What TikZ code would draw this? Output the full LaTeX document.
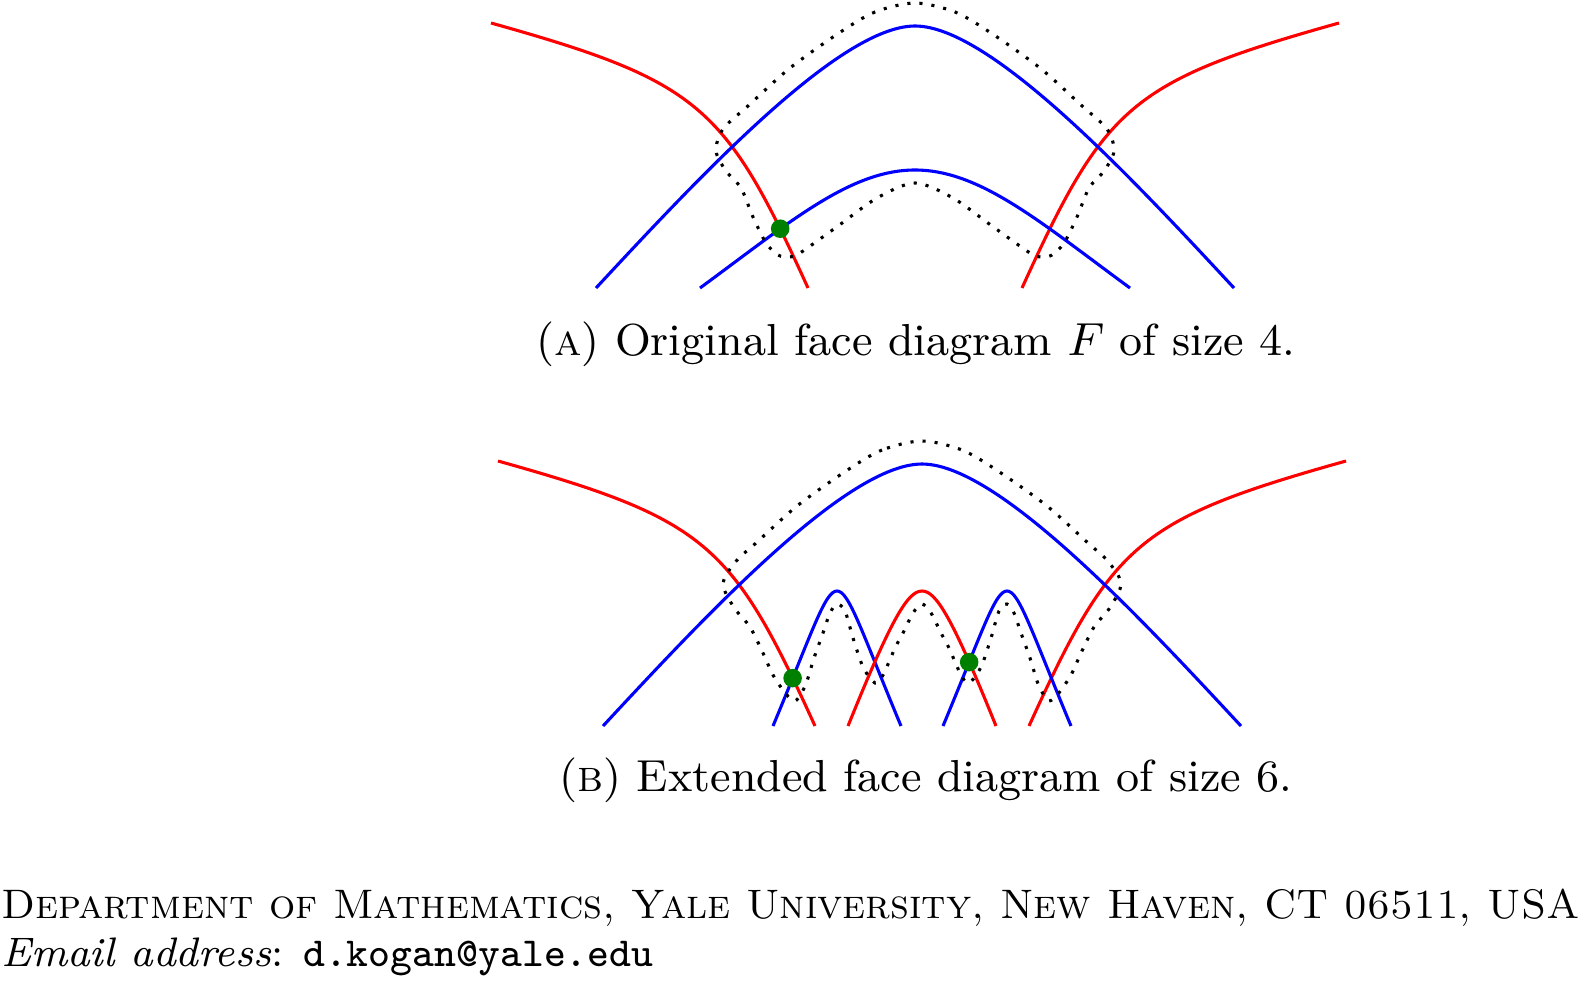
\documentclass[tikz,border=0pt]{standalone}
\usetikzlibrary{intersections}
\begin{document}
\begin{tikzpicture}[x=0.194pt,y=0.194pt,
    redcurve/.style={red,line width=0.6pt},
    bluecurve/.style={blue,line width=0.6pt},
    faceline/.style={line width=0.6pt,dash pattern=on 0.6pt off 1.75pt},
    meetdot/.style={circle,fill=green!50!black,inner sep=0pt,minimum size=3.6pt},
    captext/.style={anchor=base,font=\fontsize{8.7pt}{10.5pt}\selectfont}]
  \useasboundingbox (0,0) rectangle (1585,-980);
  % outer curves, the same in both diagrams
  \foreach \dx/\dy/\p in {0/0/a,7/-438/b}{
    \begin{scope}[shift={(\dx,\dy)}]
      \draw[redcurve,name path global=redleft\p] (491,-23) .. controls (700,-81.5) and (725,-105.6) .. (808,-288);
      \draw[redcurve] (1339,-23) .. controls (1130,-81.5) and (1105,-105.6) .. (1022,-288);
      \draw[bluecurve] (596,-288) .. controls (700,-176) and (840,-26) .. (915,-26)
        .. controls (990,-26) and (1130,-176) .. (1234,-288);
    \end{scope}
  }
  % (a)
  \draw[bluecurve,name path=innera] (700,-288) .. controls (790,-222) and (850,-170) .. (915,-170)
    .. controls (980,-170) and (1040,-222) .. (1130,-288);
  \draw[faceline] plot[smooth cycle] coordinates {(915,-3) (875,-12) (839,-33) (790,-68) (749,-105) (723,-129) (716,-151) (726,-171) (741,-188) (753,-217) (766,-243) (778,-255) (789,-257) (800,-253) (838,-226) (877,-198) (915,-183) (953,-198) (992,-226) (1030,-253) (1041,-257) (1052,-255) (1064,-243) (1077,-217) (1089,-188) (1104,-171) (1114,-151) (1107,-129) (1081,-105) (1040,-68) (991,-33) (955,-12)};
  \path[name intersections={of=redlefta and innera,by=ga}];
  \node[meetdot] (da) at (ga) {};
  \node[captext] (capa) at (916,-355) {(\textsc{a}) Original face diagram $F$ of size 4.};
  % (b)
  \draw[bluecurve,name path=bluearcb] (773,-726) .. controls (813,-630) and (825,-591) .. (837,-591)
    .. controls (849,-591) and (861,-630) .. (901,-726);
  \draw[redcurve,name path=redarcb] (848,-726) .. controls (892,-617) and (908,-591) .. (922,-591)
    .. controls (936,-591) and (952,-617) .. (996,-726);
  \draw[bluecurve,name path=bluearcc] (943,-726) .. controls (983,-630) and (995,-591) .. (1007,-591)
    .. controls (1019,-591) and (1031,-630) .. (1071,-726);
  \draw[faceline] plot[smooth cycle] coordinates {(922,-441) (882,-450) (846,-471) (797,-506) (756,-543) (738,-559) (725,-577) (724,-589) (735,-609) (750,-627) (763,-653) (773,-675) (786,-694) (795,-701) (802,-692) (807,-681) (814,-658) (823,-633) (830,-613) (837,-604) (845,-611) (853,-638) (863,-667) (875,-683) (883,-675) (895,-648) (903,-633) (913,-613) (922,-604) (931,-613) (941,-633) (949,-648) (961,-675) (969,-683) (981,-667) (991,-638) (999,-611) (1007,-604) (1014,-613) (1021,-633) (1030,-658) (1037,-681) (1042,-692) (1049,-701) (1058,-694) (1071,-675) (1081,-653) (1094,-627) (1109,-609) (1120,-589) (1119,-577) (1106,-559) (1088,-543) (1047,-506) (998,-471) (962,-450)};
  \path[name intersections={of=redleftb and bluearcb,by=gb}];
  \path[name intersections={of=redarcb and bluearcc,by=hb}];
  \node[meetdot] (db) at (gb) {};
  \node[meetdot] (eb) at (hb) {};
  \node[captext] (capb) at (926,-791) {(\textsc{b}) Extended face diagram of size 6.};
  % address
  \node[anchor=base west,inner sep=0pt,font=\footnotesize\scshape] (addr) at (0,-918) {Department of Mathematics, Yale University, New Haven, CT 06511, USA};
  \node[anchor=base west,inner sep=0pt,font=\footnotesize] (mail) at (0,-966) {\textit{Email address}: \texttt{d.kogan@yale.edu}};
\end{tikzpicture}
\end{document}
